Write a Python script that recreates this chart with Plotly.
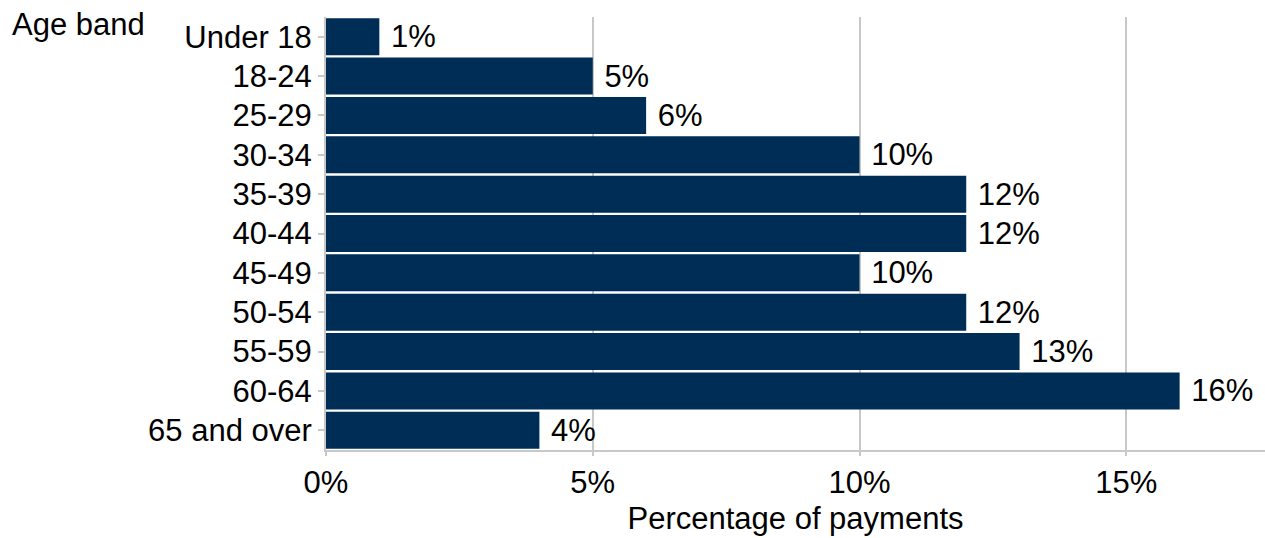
import plotly.graph_objects as go

categories = ["Under 18", "18-24", "25-29", "30-34", "35-39", "40-44",
              "45-49", "50-54", "55-59", "60-64", "65 and over"]
values = [1, 5, 6, 10, 12, 12, 10, 12, 13, 16, 4]
labels = ["\u00a0" + f"{v}%" for v in values]

FONT = "Liberation Sans, Arial, sans-serif"
FS = 31
W, H = 1265, 538
L, R, T, B = 326, 0, 17, 88

fig = go.Figure(go.Bar(
    x=values, y=categories, orientation="h",
    marker=dict(color="#002d56", line=dict(width=0)),
    text=labels, textposition="outside", cliponaxis=False,
    textfont=dict(family=FONT, size=FS, color="#000000"),
))
fig.update_layout(
    width=W, height=H,
    margin=dict(l=L, r=R, t=T, b=B),
    paper_bgcolor="white", plot_bgcolor="white",
    bargap=0.06, showlegend=False,
    font=dict(family=FONT, size=FS, color="#000000"),
    xaxis=dict(range=[0, 17.6], dtick=5, ticksuffix="%",
               showgrid=True, gridcolor="#c8c8c8", gridwidth=2,
               zeroline=False, showline=True, linecolor="#c8c8c8", linewidth=2,
               ticks="outside", ticklen=4, tickcolor="#c8c8c8", tickwidth=2,
               title=dict(text="Percentage of payments", standoff=8,
                          font=dict(family=FONT, size=FS))),
    yaxis=dict(autorange="reversed", showgrid=False, zeroline=False,
               showline=True, linecolor="#c8c8c8", linewidth=2,
               ticks="outside", ticklen=6, tickcolor="#c8c8c8", tickwidth=2),
    annotations=[dict(text="Age band",
                      x=(10 - L) / (W - L - R), y=(H - B - 25) / (H - B - T),
                      xref="paper", yref="paper",
                      showarrow=False, xanchor="left", yanchor="middle",
                      font=dict(family=FONT, size=FS))],
)
fig.write_html("out.html", config={"displayModeBar": False},
               post_script="document.body.style.margin='0';document.body.style.overflow='hidden';")
